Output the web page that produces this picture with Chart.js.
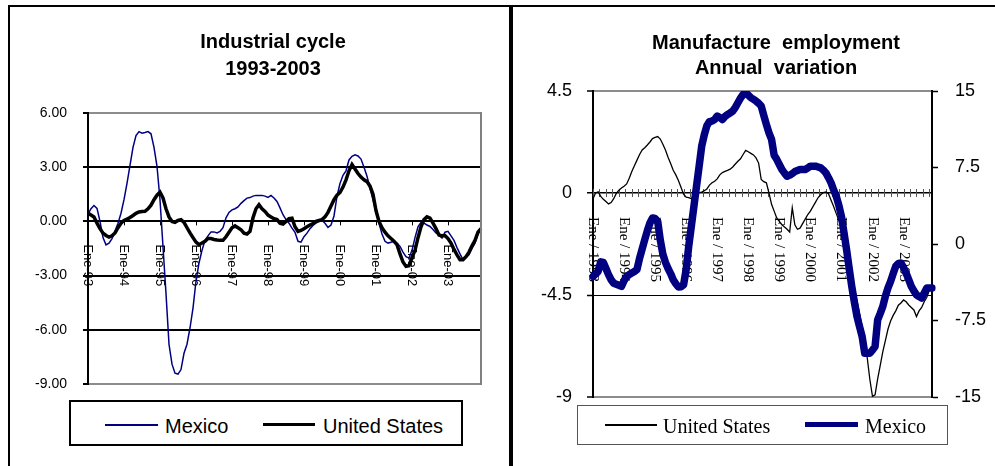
<!DOCTYPE html>
<html>
<head>
<meta charset="utf-8">
<script src="https://cdn.jsdelivr.net/npm/chart.js@4.4.0/dist/chart.umd.min.js"></script>
<style>
  body { margin: 0; width: 995px; height: 466px; background: #fff; position: relative; overflow: hidden;
         font-family: "Liberation Sans", Arial, sans-serif; }
  .panel { position: absolute; top: 0; height: 466px; }
  .rule { position: absolute; background: #000; }
  .title { position: absolute; text-align: center; font-weight: bold; font-size: 20px; white-space: pre; color: #000; }
  .legend { position: absolute; box-sizing: border-box; background: #fff; }
  .swatch { position: absolute; }
  .ltxt { position: absolute; white-space: nowrap; font-size: 20px; line-height: 20px; color: #000; }
  .serif { font-family: "Liberation Serif", "Times New Roman", serif; }
</style>
</head>
<body>
<div class="panel" style="left:0;width:500px;"><canvas id="cycle"></canvas></div>
<div class="panel" style="left:500px;width:495px;"><canvas id="employment"></canvas></div>

<div class="rule" style="left:8px;top:5px;width:987px;height:2px;"></div>
<div class="rule" style="left:8px;top:5px;width:2px;height:461px;"></div>
<div class="rule" style="left:509px;top:5px;width:4px;height:461px;"></div>

<div class="title" style="left:73px;top:28px;width:400px;line-height:26.5px;">Industrial cycle
1993-2003</div>
<div class="title" style="left:576px;top:30px;width:400px;line-height:25px;">Manufacture  employment
Annual  variation</div>

<div class="legend" style="left:69px;top:400px;width:394px;height:46px;border:2px solid #000;"></div>
<div class="swatch" style="left:105px;top:424px;width:53px;height:2px;background:#000080;"></div>
<div class="ltxt" style="left:165px;top:416px;">Mexico</div>
<div class="swatch" style="left:263px;top:423px;width:52px;height:3px;background:#000;"></div>
<div class="ltxt" style="left:323px;top:416px;">United States</div>

<div class="legend" style="left:577px;top:405px;width:371px;height:40px;border:1px solid #555;"></div>
<div class="swatch" style="left:605px;top:424px;width:52px;height:2px;background:#000;"></div>
<div class="ltxt serif" style="left:663px;top:416px;">United States</div>
<div class="swatch" style="left:805px;top:422px;width:53px;height:5px;background:#000080;"></div>
<div class="ltxt serif" style="left:865px;top:416px;">Mexico</div>

<script>
// monthly categories, Jan 1993 .. Dec 2003
const years = [1993, 1994, 1995, 1996, 1997, 1998, 1999, 2000, 2001, 2002, 2003];
const monthNames = ['Ene', 'Feb', 'Mar', 'Abr', 'May', 'Jun', 'Jul', 'Ago', 'Sep', 'Oct', 'Nov', 'Dic'];
const months = [];
years.forEach(y => monthNames.forEach(m => months.push(m + '-' + String(y).slice(2))));

const cycleTickLabels = ['Ene-93', 'Ene-94', 'Ene-95', 'Ene-96', 'Ene-97', 'Ene-98', 'Ene-99', 'Ene-00', 'Ene-01', 'Ene-02', 'Ene-03'];
const employmentTickLabels = ['Ene / 1993', 'Ene / 1994', 'Ene / 1995', 'Ene / 1996', 'Ene / 1997', 'Ene / 1998',
  'Ene / 1999', 'Ene / 2000', 'Ene / 2001', 'Ene / 2002', 'Ene / 2003'];

// Industrial cycle (left panel)
const cycleMexico = [
  0.40, 0.70, 0.88, 0.72, 0.00, -0.90, -1.30, -1.20, -0.95, -0.55, -0.10, 0.45,
  1.20, 2.10, 3.10, 4.10, 4.75, 4.97, 4.88, 4.92, 4.97, 4.85, 4.10, 3.05,
  1.20, -1.40, -4.00, -6.80, -7.90, -8.40, -8.45, -8.20, -7.30, -6.80, -5.90, -4.80,
  -3.30, -2.30, -1.60, -1.05, -0.80, -0.58, -0.58, -0.64, -0.55, -0.35, 0.20, 0.50,
  0.64, 0.70, 0.80, 1.00, 1.15, 1.29, 1.32, 1.40, 1.44, 1.44, 1.44, 1.40,
  1.33, 1.44, 1.30, 1.10, 0.75, 0.37, 0.10, -0.10, -0.37, -0.60, -1.10, -1.15,
  -0.85, -0.65, -0.40, -0.22, -0.10, 0.00, 0.05, -0.10, -0.33, -0.20, 0.30, 1.40,
  2.10, 2.55, 2.80, 3.40, 3.60, 3.68, 3.62, 3.45, 3.00, 2.50, 1.84, 1.20,
  0.50, -0.10, -0.70, -1.10, -1.20, -1.15, -1.10, -1.20, -1.38, -1.70, -1.95, -2.03,
  -1.60, -0.90, -0.30, -0.05, -0.10, -0.20, -0.28, -0.45, -0.64, -0.75, -0.92, -0.60,
  -0.55, -0.80, -1.05, -1.45, -1.80, -2.12, -2.00, -1.85, -1.50, -1.20, -0.70, -0.40
];
const cycleUS = [
  0.46, 0.35, 0.25, -0.10, -0.40, -0.65, -0.78, -0.87, -0.80, -0.64, -0.35, -0.10,
  0.05, 0.12, 0.22, 0.33, 0.45, 0.52, 0.55, 0.56, 0.70, 0.90, 1.20, 1.45,
  1.62, 1.30, 0.70, 0.25, 0.00, -0.05, 0.05, 0.09, -0.05, -0.35, -0.64, -0.90,
  -1.15, -1.29, -1.20, -1.10, -0.95, -0.95, -1.00, -1.03, -1.05, -1.05, -0.85, -0.60,
  -0.35, -0.25, -0.35, -0.46, -0.65, -0.70, -0.55, 0.20, 0.70, 0.92, 0.70, 0.55,
  0.35, 0.25, 0.15, 0.10, -0.10, -0.15, 0.00, 0.15, 0.18, -0.30, -0.55, -0.50,
  -0.40, -0.30, -0.20, -0.12, 0.00, 0.05, 0.10, 0.25, 0.50, 0.85, 1.20, 1.45,
  1.60, 1.90, 2.30, 2.80, 3.15, 2.90, 2.65, 2.45, 2.30, 2.20, 1.95, 1.50,
  0.60, 0.00, -0.35, -0.60, -0.80, -0.95, -1.10, -1.29, -1.80, -2.25, -2.49, -2.45,
  -2.00, -1.60, -0.90, -0.30, 0.10, 0.25, 0.18, -0.10, -0.40, -0.75, -0.80, -0.78,
  -0.95, -1.20, -1.55, -1.85, -2.12, -2.12, -1.95, -1.70, -1.35, -1.05, -0.60, -0.40
];

// Manufacture employment, annual variation (right panel)
const employmentUS = [
  -0.25, 0.00, 0.05, -0.15, -0.28, -0.38, -0.48, -0.42, -0.25, -0.02, 0.12, 0.22,
  0.30, 0.40, 0.65, 0.95, 1.20, 1.45, 1.70, 1.90, 2.00, 2.12, 2.25, 2.40,
  2.45, 2.49, 2.38, 2.15, 1.90, 1.58, 1.30, 1.00, 0.80, 0.55, 0.25, -0.05,
  -0.18, -0.20, -0.25, -0.10, -0.03, 0.02, 0.04, 0.10, 0.18, 0.35, 0.45, 0.52,
  0.62, 0.80, 0.90, 0.95, 1.00, 1.05, 1.15, 1.28, 1.40, 1.51, 1.70, 1.88,
  1.82, 1.75, 1.68, 1.55, 1.32, 0.60, 0.50, 0.45, 0.00, -0.50, -0.80, -1.10,
  -1.25, -1.40, -1.50, -1.60, -1.72, -0.65, -1.40, -1.60, -1.55, -1.35, -1.15, -0.95,
  -0.80, -0.60, -0.40, -0.20, -0.08, 0.02, 0.05, -0.03, -0.32, -0.60, -0.91, -1.20,
  -1.50, -1.90, -2.38, -2.95, -3.55, -4.15, -4.75, -5.30, -5.90, -6.50, -7.30, -8.24,
  -8.97, -8.90, -8.20, -7.60, -7.00, -6.50, -6.00, -5.65, -5.40, -5.20, -4.95, -4.85,
  -4.72, -4.80, -4.94, -5.05, -5.16, -5.45, -5.20, -5.05, -4.80, -4.60, -4.28, -4.20
];
const employmentMexico = [
  -3.18, -2.95, -2.68, -1.75, -1.80, -2.40, -3.00, -3.50, -3.85, -3.95, -4.05, -4.16,
  -3.60, -3.18, -3.00, -2.85, -2.70, -2.50, -1.40, -0.50, 0.43, 1.30, 2.06, 2.55,
  2.50, 2.23, 0.40, -1.00, -1.80, -2.40, -2.90, -3.50, -3.90, -4.22, -4.20, -4.00,
  -2.50, -0.20, 1.73, 3.70, 5.66, 7.60, 9.59, 10.70, 11.60, 12.00, 12.05, 12.20,
  12.54, 12.40, 12.21, 12.50, 12.70, 12.85, 13.03, 13.40, 13.85, 14.30, 14.66, 14.83,
  14.60, 14.34, 14.20, 14.01, 13.80, 13.52, 12.60, 11.72, 10.90, 10.25, 8.70, 8.30,
  7.80, 7.30, 6.95, 6.64, 6.75, 6.90, 7.10, 7.20, 7.30, 7.30, 7.30, 7.45,
  7.63, 7.63, 7.63, 7.55, 7.46, 7.25, 6.97, 6.50, 5.99, 5.30, 4.68, 3.80,
  2.72, 1.10, -0.56, -2.40, -4.16, -5.70, -7.10, -8.10, -9.07, -10.70, -10.70, -10.70,
  -10.40, -10.05, -7.43, -6.80, -6.12, -5.10, -4.30, -3.67, -2.90, -2.19, -1.90, -1.87,
  -2.30, -2.85, -3.50, -4.16, -4.60, -4.98, -5.15, -5.30, -4.81, -4.32, -4.32, -4.32
];

const SANS = '"Liberation Sans", Arial, sans-serif';
const SERIF = '"Liberation Serif", "Times New Roman", serif';

// rotated category labels + small tick marks along the zero line
const zeroAxis = {
  id: 'zeroAxis',
  beforeDatasetsDraw(chart, args, o) {
    const xs = chart.scales.x, ys = chart.scales.y;
    const y0 = ys.getPixelForValue(0);
    const ctx = chart.ctx;
    ctx.save();
    ctx.strokeStyle = o.tickColor;
    ctx.lineWidth = 1;
    ctx.beginPath();
    for (let v = 0; v <= months.length - 1 + 0.01; v += o.tickStep) {
      const x = Math.round(xs.getPixelForValue(v)) + 0.5;
      ctx.moveTo(x, y0 - o.tickUp);
      ctx.lineTo(x, y0 + o.tickDown);
    }
    ctx.stroke();
    ctx.fillStyle = '#000';
    ctx.font = o.font;
    ctx.textAlign = 'left';
    ctx.textBaseline = 'middle';
    o.labels.forEach((lab, k) => {
      const x = xs.getPixelForValue(k * 12);
      ctx.save();
      ctx.translate(x, y0 + o.gap);
      ctx.rotate(Math.PI / 2);
      ctx.fillText(lab, 0, 0);
      ctx.restore();
    });
    ctx.restore();
  }
};

// grey right edge of the plot area (left panel)
const plotEdge = {
  id: 'plotEdge',
  afterDraw(chart, args, o) {
    if (!o.right) return;
    const a = chart.chartArea, ctx = chart.ctx;
    ctx.save();
    ctx.strokeStyle = '#808080';
    ctx.lineWidth = 2;
    ctx.beginPath();
    ctx.moveTo(a.right, a.top - 1);
    ctx.lineTo(a.right, a.bottom + 1);
    ctx.stroke();
    ctx.restore();
  }
};

new Chart(document.getElementById('cycle'), {
  type: 'line',
  data: {
    labels: months,
    datasets: [
      { label: 'Mexico', data: cycleMexico, borderColor: '#000080', borderWidth: 1.5, pointRadius: 0, order: 2 },
      { label: 'United States', data: cycleUS, borderColor: '#000', borderWidth: 3.5, pointRadius: 0, order: 1 }
    ]
  },
  options: {
    responsive: true,
    maintainAspectRatio: false,
    animation: false,
    events: [],
    layout: { padding: { left: 0, top: 113, right: 19, bottom: 82 } },
    plugins: {
      legend: { display: false },
      tooltip: { enabled: false },
      zeroAxis: { labels: cycleTickLabels, tickStep: 12, tickUp: 0, tickDown: 4, tickColor: '#000',
                  gap: 23, font: '13px ' + SANS },
      plotEdge: { right: true }
    },
    scales: {
      x: { display: false },
      y: {
        min: -9, max: 6,
        ticks: { stepSize: 3, callback: v => v.toFixed(2), color: '#000', padding: 16, font: { family: SANS, size: 14 } },
        grid: {
          color: c => (c.tick && (c.tick.value === 6 || c.tick.value === -9)) ? '#8c8c8c' : '#000',
          lineWidth: 2, tickLength: 5, tickColor: '#000'
        },
        border: { color: '#000', width: 2 },
        afterFit: s => { s.width = 88; }
      }
    }
  },
  plugins: [zeroAxis, plotEdge]
});

new Chart(document.getElementById('employment'), {
  type: 'line',
  data: {
    labels: months,
    datasets: [
      { label: 'United States', data: employmentUS, yAxisID: 'y', borderColor: '#000', borderWidth: 1.3, pointRadius: 0, order: 2 },
      { label: 'Mexico', data: employmentMexico, yAxisID: 'y1', borderColor: '#000080', borderWidth: 7.5, pointRadius: 0,
        borderJoinStyle: 'round', borderCapStyle: 'round', order: 1 }
    ]
  },
  options: {
    responsive: true,
    maintainAspectRatio: false,
    animation: false,
    events: [],
    layout: { padding: { left: 0, top: 91, right: 0, bottom: 69 } },
    plugins: {
      legend: { display: false },
      tooltip: { enabled: false },
      zeroAxis: { labels: employmentTickLabels, tickStep: 2.5, tickUp: 4, tickDown: 4, tickColor: '#555',
                  gap: 24, font: '15px ' + SERIF },
      plotEdge: { right: false }
    },
    scales: {
      x: { display: false },
      y: {
        position: 'left', min: -9, max: 4.5,
        ticks: { stepSize: 4.5, color: '#000', padding: 15, font: { family: SANS, size: 18 } },
        grid: {
          color: c => (c.tick && (c.tick.value === 4.5 || c.tick.value === -9)) ? '#8c8c8c' : '#000',
          lineWidth: c => (c.tick && (c.tick.value === 4.5 || c.tick.value === -9)) ? 2 : (c.tick && c.tick.value === 0 ? 1.5 : 1),
          tickLength: 6, tickColor: '#000', tickWidth: 1.5
        },
        border: { color: '#000', width: 2 },
        afterFit: s => { s.width = 93; }
      },
      y1: {
        position: 'right', min: -15, max: 15,
        ticks: { stepSize: 7.5, color: '#000', padding: 17, font: { family: SANS, size: 18 } },
        grid: { drawOnChartArea: false, tickLength: 6, tickColor: '#000', tickWidth: 1.5 },
        border: { color: '#000', width: 2 },
        afterFit: s => { s.width = 63; }
      }
    }
  },
  plugins: [zeroAxis, plotEdge]
});
</script>
</body>
</html>
